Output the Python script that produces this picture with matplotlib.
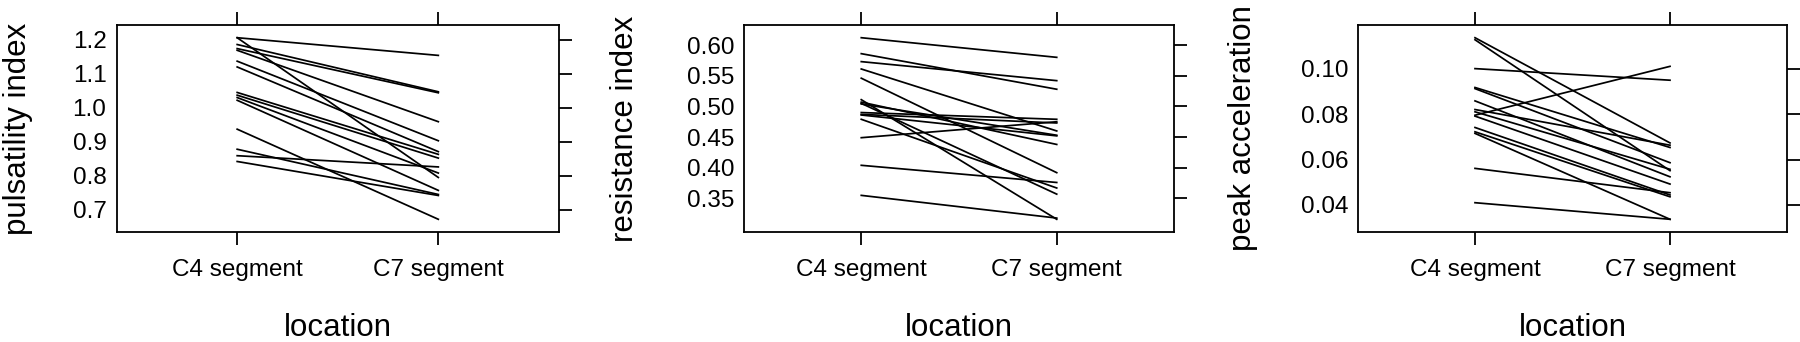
import numpy as np
import matplotlib
matplotlib.use('Agg')
import matplotlib.pyplot as plt

plt.rcParams['font.family'] = ['Liberation Sans', 'DejaVu Sans']

locations = ['C4 segment', 'C7 segment']

# pulsatility index, one value per subject at each location
pi_c4 = [1.206, 1.206, 1.186, 1.174, 1.169, 1.137, 1.120, 1.045, 1.037, 1.030, 1.022, 0.937, 0.878, 0.859, 0.842]
pi_c7 = [1.154, 0.795, 1.047, 1.044, 0.959, 0.903, 0.871, 0.863, 0.852, 0.808, 0.757, 0.672, 0.745, 0.826, 0.742]

# resistance index
ri_c4 = [0.612, 0.586, 0.573, 0.561, 0.546, 0.511, 0.507, 0.505, 0.504, 0.490, 0.487, 0.486, 0.479, 0.449, 0.404, 0.355]
ri_c7 = [0.580, 0.528, 0.542, 0.460, 0.392, 0.316, 0.438, 0.357, 0.453, 0.479, 0.473, 0.452, 0.367, 0.475, 0.376, 0.318]

# peak acceleration
pa_c4 = [0.1136, 0.1127, 0.1000, 0.0917, 0.0912, 0.0858, 0.0820, 0.0810, 0.0795, 0.0791, 0.0741, 0.0722, 0.0715, 0.0561, 0.0410]
pa_c7 = [0.0673, 0.0551, 0.0949, 0.0653, 0.0586, 0.0524, 0.0663, 0.0557, 0.1010, 0.0492, 0.0444, 0.0436, 0.0337, 0.0454, 0.0337]

pi_ticks = [0.7, 0.8, 0.9, 1.0, 1.1, 1.2]
ri_ticks = [0.35, 0.40, 0.45, 0.50, 0.55, 0.60]
pa_ticks = [0.04, 0.06, 0.08, 0.10]


def panel(fig, rect, c4, c7, yticks, fmt, ylabel, ylab_x):
    ax = fig.add_axes(rect)
    for a, b in zip(c4, c7):
        ax.plot([1, 2], [a, b], color='black', lw=1.25)

    lo = min(min(c4), min(c7))
    hi = max(max(c4), max(c7))
    pad = 0.07 * (hi - lo)
    ax.set_ylim(lo - pad, hi + pad)
    ax.set_xlim(0.4, 2.6)

    ax.set_xticks([1, 2])
    ax.set_xticklabels(locations)
    ax.set_yticks(yticks)
    ax.set_yticklabels([fmt % t for t in yticks])

    ax.tick_params(axis='x', direction='out', length=9.4, width=1.3,
                   top=True, bottom=True, labeltop=False, labelbottom=True,
                   pad=10.0, labelsize=17.5)
    ax.tick_params(axis='y', direction='out', length=9.4, width=1.3,
                   left=False, right=True, labelleft=True, labelright=False,
                   pad=-2.2, labelsize=17.5)
    for s in ax.spines.values():
        s.set_linewidth(1.3)

    ax.set_xlabel('location', fontsize=22.5)
    ax.xaxis.set_label_coords(0.5, -0.39)
    ax.set_ylabel(ylabel, fontsize=22.5)
    ax.yaxis.set_label_coords(ylab_x, 0.5)
    return ax


def main():
    fig = plt.figure(figsize=(18, 3.42), dpi=100)
    bottom = 1 - 232 / 342
    height = (232 - 25) / 342

    panel(fig, [116.5 / 1800, bottom, 442.5 / 1800, height],
          pi_c4, pi_c7, pi_ticks, '%.1f', 'pulsatility index', -0.189)
    panel(fig, [744 / 1800, bottom, 430 / 1800, height],
          ri_c4, ri_c7, ri_ticks, '%.2f', 'resistance index', -0.242)
    panel(fig, [1358 / 1800, bottom, 429 / 1800, height],
          pa_c4, pa_c7, pa_ticks, '%.2f', 'peak acceleration', -0.234)

    fig.savefig('out.png', dpi=100)


if __name__ == '__main__':
    main()
